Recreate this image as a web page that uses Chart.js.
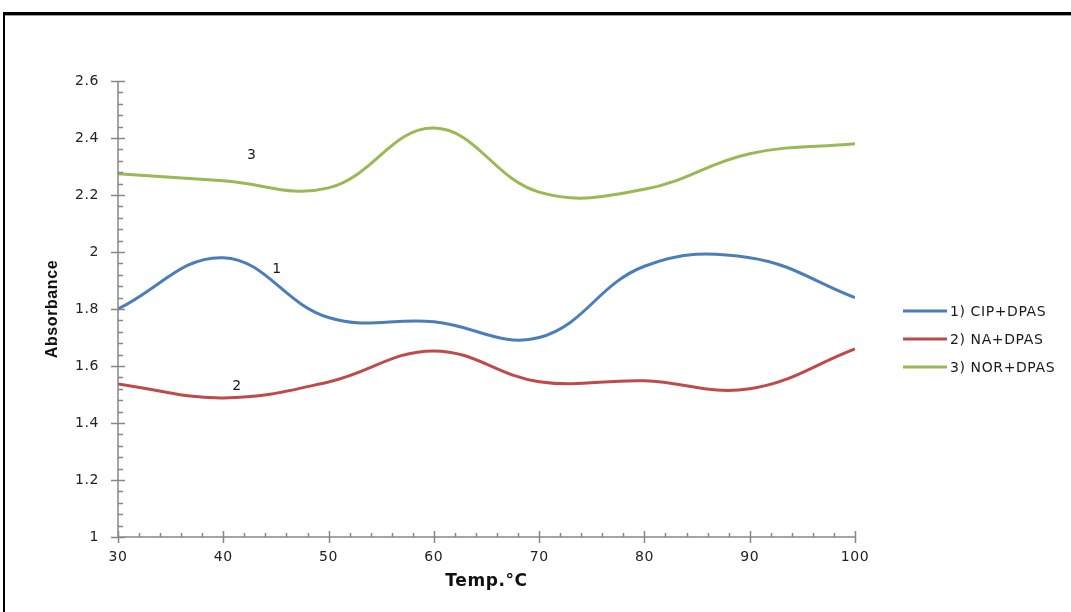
<!DOCTYPE html>
<html>
<head>
<meta charset="utf-8">
<script src="https://cdn.jsdelivr.net/npm/chart.js@4.4.1/dist/chart.umd.min.js"></script>
<style>
  html, body { margin: 0; padding: 0; background: #fff; }
  #wrap { width: 1071px; height: 612px; position: relative; }
</style>
</head>
<body>
<div id="wrap"><canvas id="chart"></canvas></div>
<script>
// ── Data ────────────────────────────────────────────────────────────────────
const temps = [30, 40, 50, 60, 70, 80, 90, 100];
const cipDpas = [1.80, 1.98, 1.77, 1.755, 1.70, 1.95, 1.98, 1.84];
const naDpas  = [1.537, 1.488, 1.544, 1.653, 1.545, 1.548, 1.52, 1.66];
const norDpas = [2.275, 2.25, 2.225, 2.435, 2.21, 2.22, 2.345, 2.38];

const seriesNames = ['1) CIP+DPAS', '2) NA+DPAS', '3) NOR+DPAS'];
const seriesColors = ['#4a7ebb', '#be4b48', '#98b954'];

// curve number labels, in data units
const curveTags = ['1', '2', '3'];
const curveTagX = [45.1, 41.3, 42.7];
const curveTagY = [1.94, 1.53, 2.34];

const TICK_FONT = 'DejaVu Sans';
const AXIS_GREY = '#868686';

function toPoints(ys) {
  return temps.map(function (t, i) { return { x: t, y: ys[i] }; });
}

// ── Frame + axis ticks + legend + curve tags ────────────────────────────────
const decorations = {
  id: 'decorations',
  beforeDraw: function (chart) {
    const ctx = chart.ctx;
    ctx.save();
    ctx.fillStyle = '#000';
    ctx.fillRect(3, 12, 1068, 3);
    ctx.fillStyle = '#a0a0a0';
    ctx.fillRect(5, 15, 1066, 1);
    ctx.fillStyle = '#000';
    ctx.fillRect(3, 12, 2, 600);
    ctx.restore();
    ctx.letterSpacing = '0.6px';
  },
  afterDraw: function (chart) {
    const ctx = chart.ctx;
    const a = chart.chartArea;
    const xs = chart.scales.x, ys = chart.scales.y;
    ctx.save();
    ctx.strokeStyle = AXIS_GREY;
    ctx.lineWidth = 1.5;
    ctx.beginPath();
    ctx.moveTo(a.left, a.top); ctx.lineTo(a.left, a.bottom);
    ctx.lineTo(a.right, a.bottom);
    // y ticks: major every 0.2, minor every 0.04
    for (let i = 0; i <= 40; i++) {
      const y = Math.round(ys.getPixelForValue(1 + i * 0.04)) + 0.5;
      if (i % 5 === 0) { ctx.moveTo(a.left - 7, y); ctx.lineTo(a.left + 7, y); }
      else { ctx.moveTo(a.left, y); ctx.lineTo(a.left + 5, y); }
    }
    // x ticks: major every 10, minor every 2
    for (let i = 0; i <= 35; i++) {
      const x = Math.round(xs.getPixelForValue(30 + i * 2)) + 0.5;
      if (i % 5 === 0) { ctx.moveTo(x, a.bottom - 6); ctx.lineTo(x, a.bottom + 6); }
      else { ctx.moveTo(x, a.bottom); ctx.lineTo(x, a.bottom - 4); }
    }
    ctx.stroke();

    // curve tags
    ctx.fillStyle = '#1a1a1a';
    ctx.font = '14px "' + TICK_FONT + '"';
    ctx.textAlign = 'center';
    ctx.textBaseline = 'middle';
    curveTags.forEach(function (t, i) {
      ctx.fillText(t, xs.getPixelForValue(curveTagX[i]), ys.getPixelForValue(curveTagY[i]));
    });

    // legend
    const legX = 903, legY = [311, 339, 367];
    ctx.textAlign = 'left';
    ctx.font = '14px "' + TICK_FONT + '"';
    ctx.letterSpacing = '0.6px';
    seriesNames.forEach(function (name, i) {
      ctx.strokeStyle = seriesColors[i];
      ctx.lineWidth = 3;
      ctx.beginPath();
      ctx.moveTo(legX, legY[i]); ctx.lineTo(legX + 44, legY[i]);
      ctx.stroke();
      ctx.fillStyle = '#1a1a1a';
      ctx.fillText(name, legX + 47, legY[i] + 1);
    });
    ctx.restore();
  }
};

// ── Chart ───────────────────────────────────────────────────────────────────
const lineSet = function (label, ys, color) {
  return {
    label: label,
    data: toPoints(ys),
    borderColor: color,
    backgroundColor: color,
    borderWidth: 3,
    pointRadius: 0,
    tension: 0.4,
    fill: false,
  };
};

new Chart(document.getElementById('chart'), {
  type: 'line',
  data: {
    datasets: [
      lineSet(seriesNames[0], cipDpas, seriesColors[0]),
      lineSet(seriesNames[1], naDpas, seriesColors[1]),
      lineSet(seriesNames[2], norDpas, seriesColors[2]),
    ]
  },
  options: {
    responsive: true,
    maintainAspectRatio: false,
    animation: false,
    layout: { padding: { top: 81, right: 216, left: 20, bottom: 20 } },
    plugins: { legend: { display: false }, tooltip: { enabled: false } },
    scales: {
      x: {
        type: 'linear', min: 30, max: 100,
        grid: { display: false, drawTicks: false },
        border: { display: false },
        ticks: { stepSize: 10, padding: 12, color: '#222', font: { family: TICK_FONT, size: 14 } },
        title: { display: true, text: 'Temp.°C', color: '#111', padding: { top: 0, bottom: 0 },
                 font: { family: TICK_FONT, size: 17, weight: 'bold' } },
        afterFit: function (s) { s.height = 55; }
      },
      y: {
        type: 'linear', min: 1, max: 2.6,
        grid: { display: false, drawTicks: false },
        border: { display: false },
        ticks: { stepSize: 0.2, padding: 19, color: '#222', font: { family: TICK_FONT, size: 14 },
                 callback: function (v) { return String(+v.toFixed(1)); } },
        title: { display: true, text: 'Absorbance', color: '#111', padding: { top: 23, bottom: 0 },
                 font: { family: 'Liberation Sans', size: 16, weight: 'bold' } },
        afterFit: function (s) { s.width = 98; }
      }
    }
  },
  plugins: [decorations]
});
</script>
</body>
</html>
